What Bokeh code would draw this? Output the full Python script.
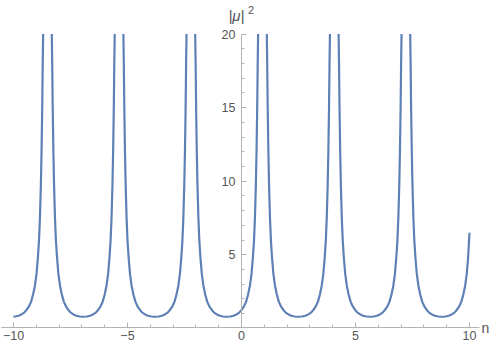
from bokeh.plotting import figure
from bokeh.models import SingleIntervalTicker, Label, Range1d
from bokeh.embed import file_html
from bokeh.resources import INLINE

# Curve branches (n, |mu|^2); each branch ends where it leaves the top (20)
seg0_n = [-10.0, -9.92, -9.78, -9.65, -9.53, -9.42, -9.32, -9.23, -9.14, -9.06,
          -8.99, -8.93, -8.88, -8.84, -8.80, -8.77, -8.74, -8.72, -8.70]
seg0_mu = [0.80, 0.81, 0.86, 0.95, 1.07, 1.27, 1.5, 1.8, 2.3, 2.9,
           3.7, 4.8, 6.0, 7.5, 9.7, 12.0, 15.0, 17.8, 20.0]

seg1_n = [-8.32, -8.30, -8.28, -8.25, -8.22, -8.18, -8.14, -8.09, -8.03, -7.96, -7.88, -7.79,
          -7.70, -7.60, -7.49, -7.37, -7.24, -7.10, -6.94,
          -6.78, -6.64, -6.51, -6.39, -6.28, -6.18, -6.09, -6.00, -5.92, -5.85, -5.79, -5.74,
          -5.70, -5.66, -5.63, -5.60, -5.58, -5.56]
seg2_n = [-5.18, -5.16, -5.14, -5.11, -5.08, -5.04, -5.00, -4.95, -4.89, -4.82, -4.74, -4.65,
          -4.56, -4.46, -4.35, -4.23, -4.10, -3.96, -3.80,
          -3.63, -3.49, -3.36, -3.24, -3.13, -3.03, -2.94, -2.85, -2.77, -2.70, -2.64, -2.59,
          -2.55, -2.51, -2.48, -2.45, -2.43, -2.41]
seg3_n = [-2.03, -2.01, -1.99, -1.96, -1.93, -1.89, -1.85, -1.80, -1.74, -1.67, -1.59, -1.50,
          -1.41, -1.31, -1.20, -1.08, -0.95, -0.81, -0.65,
          -0.49, -0.35, -0.22, -0.10, 0.01, 0.11, 0.20, 0.29, 0.37, 0.44, 0.50, 0.55,
          0.59, 0.63, 0.66, 0.69, 0.71, 0.73]
seg4_n = [1.11, 1.13, 1.15, 1.18, 1.21, 1.25, 1.29, 1.34, 1.40, 1.47, 1.55, 1.64,
          1.73, 1.83, 1.94, 2.06, 2.19, 2.33, 2.50,
          2.66, 2.80, 2.93, 3.05, 3.16, 3.26, 3.35, 3.44, 3.52, 3.59, 3.65, 3.70,
          3.74, 3.78, 3.81, 3.84, 3.86, 3.88]
seg5_n = [4.26, 4.28, 4.30, 4.33, 4.36, 4.40, 4.44, 4.49, 4.55, 4.62, 4.70, 4.79,
          4.88, 4.98, 5.09, 5.21, 5.34, 5.48, 5.64,
          5.80, 5.94, 6.07, 6.19, 6.30, 6.40, 6.49, 6.58, 6.66, 6.73, 6.79, 6.84,
          6.88, 6.92, 6.95, 6.98, 7.00, 7.02]
mid_mu = [20.0, 17.8, 15.0, 12.0, 9.7, 7.5, 6.0, 4.8, 3.7, 2.9, 2.3, 1.8,
          1.5, 1.27, 1.07, 0.95, 0.86, 0.81, 0.79,
          0.81, 0.86, 0.95, 1.07, 1.27, 1.5, 1.8, 2.3, 2.9, 3.7, 4.8, 6.0,
          7.5, 9.7, 12.0, 15.0, 17.8, 20.0]

seg6_n = [7.40, 7.42, 7.44, 7.47, 7.50, 7.54, 7.58, 7.63, 7.69, 7.76, 7.84, 7.93,
          8.02, 8.12, 8.23, 8.35, 8.48, 8.62, 8.78,
          8.95, 9.09, 9.22, 9.34, 9.45, 9.55, 9.64, 9.73, 9.81, 9.88, 9.94, 10.0]
seg6_mu = [20.0, 17.8, 15.0, 12.0, 9.7, 7.5, 6.0, 4.8, 3.7, 2.9, 2.3, 1.8,
           1.5, 1.27, 1.07, 0.95, 0.86, 0.81, 0.79,
           0.81, 0.86, 0.95, 1.07, 1.27, 1.5, 1.8, 2.3, 2.9, 3.7, 4.8, 6.5]

x_labels = {-10: "\u221210", -5: "\u22125", 0: "0", 5: "5", 10: "10"}

xs = [seg0_n, seg1_n, seg2_n, seg3_n, seg4_n, seg5_n, seg6_n]
ys = [seg0_mu, mid_mu, mid_mu, mid_mu, mid_mu, mid_mu, seg6_mu]

FONT = "Liberation Sans"
GRAY = "#b3b3b3"
TXT = "#555555"

p = figure(width=492, height=344,
           x_range=Range1d(-10.57, 11.01), y_range=Range1d(-1.094, 22.276),
           output_backend="svg", toolbar_location=None,
           min_border_left=0, min_border_right=0,
           min_border_top=0, min_border_bottom=0)
p.outline_line_color = None
p.grid.visible = False
p.background_fill_color = "white"
p.border_fill_color = "white"

p.multi_line(xs, ys, line_color="#5E81B5", line_width=2.2, line_join="round")

for ax in (p.xaxis[0], p.yaxis[0]):
    ax.ticker = SingleIntervalTicker(interval=5, num_minor_ticks=5)
    ax.axis_line_color = GRAY
    ax.major_tick_line_color = GRAY
    ax.minor_tick_line_color = GRAY
    ax.major_tick_in = 5
    ax.major_tick_out = 0
    ax.minor_tick_in = 3
    ax.minor_tick_out = 0
    ax.major_label_text_color = TXT
    ax.major_label_text_font = FONT
    ax.major_label_text_font_size = "12.5px"

p.xaxis.fixed_location = 0.05
p.xaxis.bounds = (-10.53, 10.44)
p.xaxis.major_label_overrides = x_labels
p.xaxis.major_label_standoff = 3
p.yaxis.fixed_location = 0
p.yaxis.bounds = (0.05, 20)
p.yaxis.major_label_standoff = 6

p.add_layout(Label(x=10.7, y=0.05, text="n", text_font=FONT, text_font_size="14px",
                   text_color=TXT, text_align="center", text_baseline="middle"))
p.add_layout(Label(x=-0.22, y=21.26, text="|\u03bc|", text_font=FONT, text_font_size="15px",
                   text_font_style="italic", text_color=TXT,
                   text_align="center", text_baseline="middle"))
p.add_layout(Label(x=0.42, y=21.62, text="2", text_font=FONT, text_font_size="11px",
                   text_color=TXT, text_align="center", text_baseline="middle"))

open("out.html", "w").write(file_html(p, INLINE))
